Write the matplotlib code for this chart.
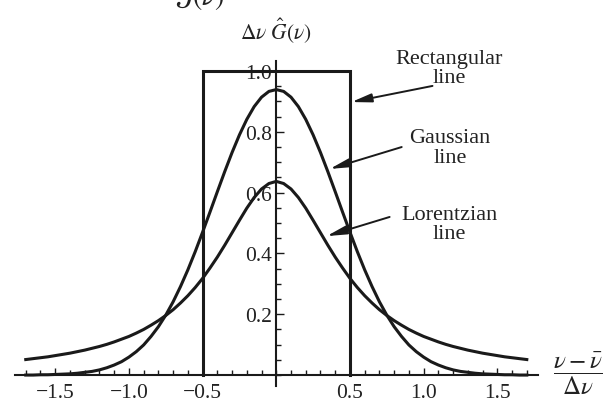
import numpy as np
import matplotlib
matplotlib.use("Agg")
import matplotlib.pyplot as plt
from matplotlib.ticker import MultipleLocator, FixedLocator

plt.rcParams['font.family'] = ['Liberation Serif', 'DejaVu Serif']
plt.rcParams['mathtext.fontset'] = 'stix'

# sample positions (normalised detuning)
x = np.round(np.arange(-34, 35) * 0.05, 2)

# values, left to right
gaussian = [0.000, 0.000, 0.001, 0.001, 0.002, 0.003, 0.004, 0.006, 0.009, 0.012,
            0.017, 0.024, 0.033, 0.044, 0.059, 0.077, 0.099, 0.127, 0.159, 0.197,
            0.241, 0.291, 0.346, 0.406, 0.470, 0.536, 0.603, 0.669, 0.732, 0.790,
            0.841, 0.883, 0.914, 0.933, 0.939, 0.933, 0.914, 0.883, 0.841, 0.790,
            0.732, 0.669, 0.603, 0.536, 0.470, 0.406, 0.346, 0.291, 0.241, 0.197,
            0.159, 0.127, 0.099, 0.077, 0.059, 0.044, 0.033, 0.024, 0.017, 0.012,
            0.009, 0.006, 0.004, 0.003, 0.002, 0.001, 0.001, 0.000, 0.000]
lorentzian = [0.051, 0.054, 0.057, 0.060, 0.064, 0.068, 0.072, 0.077, 0.082, 0.088,
              0.094, 0.101, 0.109, 0.118, 0.127, 0.138, 0.150, 0.164, 0.179, 0.196,
              0.215, 0.237, 0.261, 0.288, 0.318, 0.352, 0.388, 0.427, 0.468, 0.509,
              0.549, 0.584, 0.612, 0.630, 0.637, 0.630, 0.612, 0.584, 0.549, 0.509,
              0.468, 0.427, 0.388, 0.352, 0.318, 0.288, 0.261, 0.237, 0.215, 0.196,
              0.179, 0.164, 0.150, 0.138, 0.127, 0.118, 0.109, 0.101, 0.094, 0.088,
              0.082, 0.077, 0.072, 0.068, 0.064, 0.060, 0.057, 0.054, 0.051]
rect_x = [-0.5, -0.5, 0.5, 0.5]
rect_y = [0.0, 1.0, 1.0, 0.0]

x_ticks = [-1.5, -1.0, -0.5, 0.5, 1.0, 1.5]
x_ticklabels = ['\u22121.5', '\u22121.0', '\u22120.5', '0.5', '1.0', '1.5']
y_ticks = [0.2, 0.4, 0.6, 0.8, 1.0]
y_ticklabels = ['0.2', '0.4', '0.6', '0.8', '1.0']

ink = '#1a1a1a'
txt = '#222222'

fig = plt.figure(figsize=(6.05, 4.02), dpi=100)
ax = fig.add_axes([14.7 / 605, (402 - 387) / 402, (538 - 14.7) / 605, 325 / 402])
ax.set_xlim(-1.775, 1.776)
ax.set_ylim(-0.036, 1.033)

ax.plot(rect_x, rect_y, color=ink, lw=2.2, solid_joinstyle='miter', zorder=3)
ax.plot(x, gaussian, color=ink, lw=2.2, zorder=3)
ax.plot(x, lorentzian, color=ink, lw=2.2, zorder=3)

for s in ['top', 'right']:
    ax.spines[s].set_visible(False)
ax.spines['left'].set_position(('data', 0))
ax.spines['bottom'].set_position(('data', 0))
for s in ['left', 'bottom']:
    ax.spines[s].set_linewidth(1.5)
    ax.spines[s].set_color(ink)

ax.xaxis.set_major_locator(FixedLocator(x_ticks))
ax.set_xticklabels(x_ticklabels)
ax.xaxis.set_minor_locator(MultipleLocator(0.1))
ax.yaxis.set_major_locator(FixedLocator(y_ticks))
ax.set_yticklabels(y_ticklabels)
ax.yaxis.set_minor_locator(MultipleLocator(0.05))

ax.tick_params(axis='x', which='major', direction='in', length=5, width=1.0,
               color=ink, labelsize=15.5, labelcolor=txt, pad=6)
ax.tick_params(axis='x', which='minor', direction='in', length=3.5, width=1.0, color=ink)
ax.tick_params(axis='y', which='major', direction='in', length=5.5, width=1.0,
               color=ink, labelsize=15.5, labelcolor=txt, pad=3)
ax.tick_params(axis='y', which='minor', direction='in', length=3.5, width=1.0, color=ink)

# axis labels
ax.text(0.0, 1.138, r'$\Delta\nu\ \hat{G}(\nu)$', ha='center', va='center',
        fontsize=15.5, color=txt, clip_on=False)
ax.text(2.045, 0.008, r'$\dfrac{\nu-\bar{\nu}}{\Delta\nu}$', ha='center', va='center',
        fontsize=18, color=txt, clip_on=False)

# annotations
arrow = dict(arrowstyle='-|>,head_length=0.6,head_width=0.13', color=ink, lw=1.4,
             mutation_scale=20, shrinkA=0, shrinkB=0)
ax.text(1.173, 1.01, 'Rectangular\nline', ha='center', va='center', fontsize=16,
        color=txt, linespacing=1.05)
ax.annotate('', xy=(0.51, 0.898), xytext=(1.06, 0.951), arrowprops=arrow)
ax.text(1.18, 0.748, 'Gaussian\nline', ha='center', va='center', fontsize=16,
        color=txt, linespacing=1.05)
ax.annotate('', xy=(0.363, 0.678), xytext=(0.851, 0.750), arrowprops=arrow)
ax.text(1.173, 0.497, 'Lorentzian\nline', ha='center', va='center', fontsize=16,
        color=txt, linespacing=1.05)
ax.annotate('', xy=(0.342, 0.457), xytext=(0.769, 0.520), arrowprops=arrow)

# cut-off heading fragment at the very top
fig.text(175 / 605, 1 - 5 / 402, r'$\mathcal{J}(\nu)$', ha='left', va='baseline',
         fontsize=20, color=txt)

fig.savefig('out.png', dpi=100)
